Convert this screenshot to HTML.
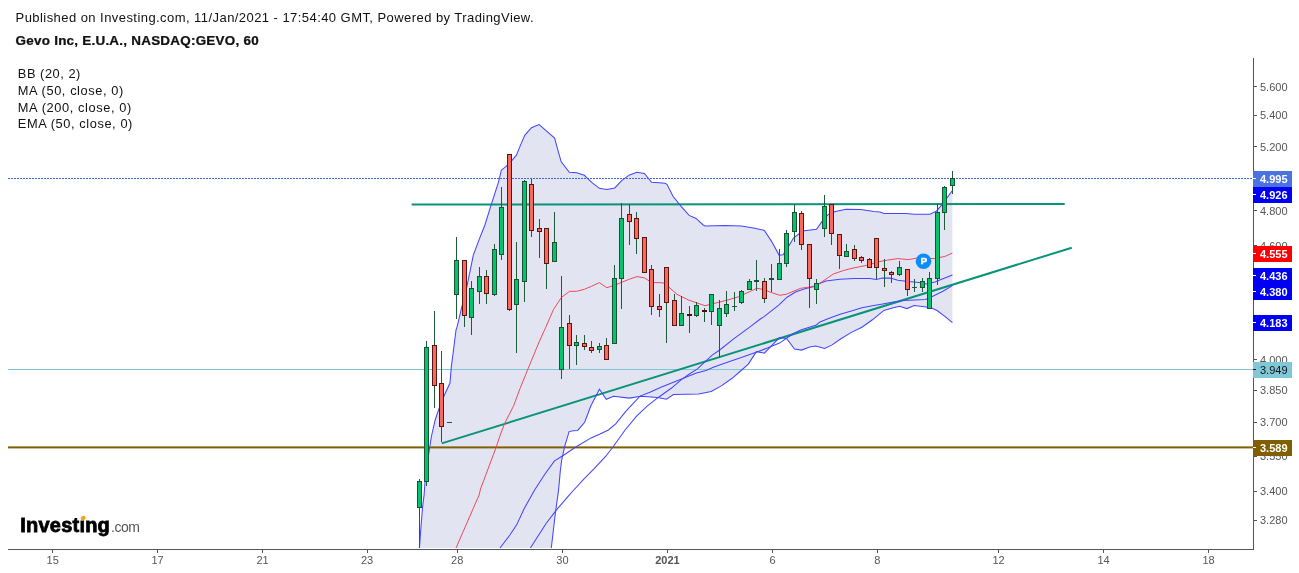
<!DOCTYPE html>
<html><head><meta charset="utf-8"><style>
html,body{margin:0;padding:0;background:#fff;width:1299px;height:573px;overflow:hidden}
svg{display:block;font-family:"Liberation Sans",sans-serif;will-change:transform}
.ax{font-size:11px;fill:#555}
.bd{font-weight:bold}
.lb{font-size:11px}
.hd{font-size:13px;fill:#111}
.lg{font-size:12px;fill:#111}
</style></head><body>
<svg width="1299" height="573" viewBox="0 0 1299 573">
<text x="15.6" y="21.8" class="hd" textLength="518" lengthAdjust="spacing">Published on Investing.com, 11/Jan/2021 - 17:54:40 GMT, Powered by TradingView.</text>
<text transform="translate(15.6 44.8) scale(1.12 1)" class="hd bd" style="font-size:12px;stroke:#111;stroke-width:0.25px" textLength="217" lengthAdjust="spacing">Gevo Inc, E.U.A., NASDAQ:GEVO, 60</text>
<text transform="translate(17.8 77.9) scale(1.07 1)" class="lg" textLength="58.5" lengthAdjust="spacing">BB (20, 2)</text>
<text transform="translate(17.8 94.7) scale(1.07 1)" class="lg" textLength="98.5" lengthAdjust="spacing">MA (50, close, 0)</text>
<text transform="translate(17.8 111.5) scale(1.07 1)" class="lg" textLength="106.1" lengthAdjust="spacing">MA (200, close, 0)</text>
<text transform="translate(17.8 128.3) scale(1.07 1)" class="lg" textLength="107.1" lengthAdjust="spacing">EMA (50, close, 0)</text>
<polygon points="419.4,548.0 420.4,534.8 422.5,507.6 424.1,495.0 425.0,482.3 428.5,455.0 431.5,436.0 435.2,420.0 438.9,408.9 444.4,395.0 450.0,383.0 451.3,367.0 453.7,348.5 456.0,330.0 457.2,326.4 462.2,305.3 467.2,285.2 473.3,255.1 479.3,239.1 484.9,225.0 491.3,204.4 498.4,182.3 501.4,170.2 506.4,166.2 511.4,161.2 516.4,155.2 520.5,145.1 524.9,135.1 531.5,127.7 539.1,124.5 546.6,131.1 554.6,138.1 557.6,149.2 561.2,161.8 569.3,172.2 576.7,172.7 584.3,175.3 591.7,182.3 599.4,188.3 606.8,189.5 614.8,187.9 621.9,180.3 629.5,174.9 636.9,172.2 644.4,173.5 651.6,182.3 659.0,182.7 665.0,183.3 667.0,184.3 673.0,196.3 681.1,206.4 689.1,215.4 696.1,218.4 703.2,225.0 705.2,226.0 725.2,225.6 741.3,226.0 753.4,228.0 764.4,230.4 771.4,241.1 779.1,255.1 783.1,254.7 787.5,248.1 793.5,238.1 802.6,231.0 816.5,229.3 822.8,220.4 828.1,214.6 835.4,211.5 845.9,209.2 860.8,209.4 873.8,211.4 880.0,212.0 883.9,213.4 906.0,213.4 914.2,214.3 930.0,214.3 936.4,211.1 942.0,204.6 952.4,190.5 952.4,190.5 952.4,322.6 952.4,322.6 944.8,316.4 937.4,310.8 931.8,308.0 926.3,307.1 914.2,305.5 906.9,308.6 899.6,306.2 893.3,307.8 883.9,310.4 872.4,319.8 861.9,327.2 851.4,332.4 840.9,338.7 831.7,345.1 824.6,348.5 815.6,346.1 809.6,347.1 801.5,350.1 794.5,349.1 786.5,338.4 779.5,337.6 764.4,353.1 756.4,351.7 748.3,364.1 740.0,371.5 732.1,378.3 721.7,385.6 711.2,391.4 698.6,394.0 673.5,394.5 666.5,399.3 657.6,397.4 640.8,396.2 629.3,398.1 613.6,396.2 606.3,399.3 599.4,389.2 590.7,406.3 584.7,422.3 577.7,430.4 573.3,430.8 569.1,431.6 564.9,445.7 561.8,459.3 560.2,471.9 558.6,490.0 555.5,512.0 551.3,548.0 551.3,548.0" fill="#E3E4F1"/>
<rect x="8" y="178" width="1245" height="1" fill="none"/>
<line x1="8" y1="178.5" x2="1253" y2="178.5" stroke="#3F66DE" stroke-width="1" stroke-dasharray="2,1"/>
<rect x="8" y="369" width="1245" height="1" fill="#7CC6D8"/>
<rect x="8" y="446.4" width="1245" height="2" fill="#7F5F00"/>
<line x1="411.6" y1="204.5" x2="1064.7" y2="204.0" stroke="#09937A" stroke-width="2"/>
<line x1="441.7" y1="443.4" x2="1071.8" y2="247.7" stroke="#09937A" stroke-width="2"/>
<polyline points="419.4,548.0 420.4,534.8 422.5,507.6 424.1,495.0 425.0,482.3 428.5,455.0 431.5,436.0 435.2,420.0 438.9,408.9 444.4,395.0 450.0,383.0 451.3,367.0 453.7,348.5 456.0,330.0 457.2,326.4 462.2,305.3 467.2,285.2 473.3,255.1 479.3,239.1 484.9,225.0 491.3,204.4 498.4,182.3 501.4,170.2 506.4,166.2 511.4,161.2 516.4,155.2 520.5,145.1 524.9,135.1 531.5,127.7 539.1,124.5 546.6,131.1 554.6,138.1 557.6,149.2 561.2,161.8 569.3,172.2 576.7,172.7 584.3,175.3 591.7,182.3 599.4,188.3 606.8,189.5 614.8,187.9 621.9,180.3 629.5,174.9 636.9,172.2 644.4,173.5 651.6,182.3 659.0,182.7 665.0,183.3 667.0,184.3 673.0,196.3 681.1,206.4 689.1,215.4 696.1,218.4 703.2,225.0 705.2,226.0 725.2,225.6 741.3,226.0 753.4,228.0 764.4,230.4 771.4,241.1 779.1,255.1 783.1,254.7 787.5,248.1 793.5,238.1 802.6,231.0 816.5,229.3 822.8,220.4 828.1,214.6 835.4,211.5 845.9,209.2 860.8,209.4 873.8,211.4 880.0,212.0 883.9,213.4 906.0,213.4 914.2,214.3 930.0,214.3 936.4,211.1 942.0,204.6 952.4,190.5" fill="none" stroke="#4545FF" stroke-width="1.05"/>
<polyline points="551.3,548.0 555.5,512.0 558.6,490.0 560.2,471.9 561.8,459.3 564.9,445.7 569.1,431.6 573.3,430.8 577.7,430.4 584.7,422.3 590.7,406.3 599.4,389.2 606.3,399.3 613.6,396.2 629.3,398.1 640.8,396.2 657.6,397.4 666.5,399.3 673.5,394.5 698.6,394.0 711.2,391.4 721.7,385.6 732.1,378.3 740.0,371.5 748.3,364.1 756.4,351.7 764.4,353.1 779.5,337.6 786.5,338.4 794.5,349.1 801.5,350.1 809.6,347.1 815.6,346.1 824.6,348.5 831.7,345.1 840.9,338.7 851.4,332.4 861.9,327.2 872.4,319.8 883.9,310.4 893.3,307.8 899.6,306.2 906.9,308.6 914.2,305.5 926.3,307.1 931.8,308.0 937.4,310.8 944.8,316.4 952.4,322.6" fill="none" stroke="#4545FF" stroke-width="1.05"/>
<polyline points="500.0,548.0 509.9,535.0 516.8,524.6 524.1,508.8 534.6,490.0 545.0,474.0 554.5,460.9 562.8,455.7 575.4,447.3 591.1,437.9 599.5,434.2 608.4,430.0 615.7,423.9 626.2,410.8 640.0,396.1 650.5,391.9 660.9,387.2 676.6,380.9 687.1,376.7 696.5,373.0 706.0,370.4 713.3,367.3 723.8,363.6 741.3,357.6 755.4,352.5 767.4,348.1 779.5,343.1 793.5,333.5 800.7,330.0 816.4,325.0 820.0,321.9 830.5,317.7 840.9,314.1 851.4,310.9 861.9,307.8 872.4,305.7 882.8,303.9 893.3,302.0 903.8,300.4 914.2,299.9 925.3,299.6 931.8,296.7 942.9,291.2 952.4,285.6" fill="none" stroke="#4545FF" stroke-width="1.05"/>
<polyline points="530.4,548.0 546.1,523.5 556.5,509.9 568.1,496.3 573.8,490.0 583.8,479.2 594.2,468.7 605.8,456.2 613.1,446.8 625.1,430.0 636.6,416.1 647.1,406.1 658.6,397.2 671.2,388.3 681.7,379.4 689.0,374.2 697.1,369.2 712.2,355.1 719.7,350.0 733.3,339.2 749.0,327.7 760.0,319.3 764.1,316.6 778.7,305.1 787.1,297.2 795.5,292.0 804.9,288.8 813.3,286.8 819.6,283.6 825.9,281.0 840.0,279.2 853.8,278.5 869.6,278.5 876.4,279.5 882.1,278.1 890.5,278.1 897.8,280.2 908.3,281.6 918.8,282.6 926.1,284.0 935.0,282.1 942.9,278.7 952.4,275.0" fill="none" stroke="#4545FF" stroke-width="1.05"/>
<polyline points="456.0,548.0 479.1,495.0 480.5,489.0 496.2,447.1 499.9,436.0 504.5,423.7 513.4,406.3 520.0,388.6 527.5,370.1 539.5,341.0 545.6,327.6 553.6,309.3 561.6,297.3 569.7,291.3 576.7,291.3 584.3,289.3 591.7,286.2 599.4,282.6 606.8,287.7 614.8,285.2 621.9,282.2 629.5,279.2 636.9,276.6 644.4,277.8 651.6,282.6 659.0,282.6 665.0,283.2 669.0,287.2 677.0,294.3 688.3,299.9 705.0,305.7 715.5,303.1 728.0,299.9 738.5,296.8 753.2,290.0 756.8,288.3 763.0,289.4 771.4,292.5 779.8,295.3 786.1,294.3 800.7,288.3 809.1,287.1 816.4,285.7 818.6,284.0 824.9,279.8 833.3,274.0 843.8,270.4 852.0,268.3 866.4,265.4 879.0,261.7 887.4,260.1 897.8,258.6 908.3,259.6 916.7,258.2 935.0,258.6 937.4,257.9 944.8,256.5 952.4,253.0" fill="none" stroke="#EA4A5C" stroke-width="1"/>
<g shape-rendering="crispEdges"><rect x="419" y="479" width="1" height="69" fill="#1F5A3A"/><rect x="417.5" y="481.5" width="4" height="26" fill="#00C46E" stroke="#1B5233" stroke-width="1"/>
<rect x="426" y="341" width="1" height="145" fill="#1F5A3A"/><rect x="424.5" y="347.5" width="4" height="134" fill="#00C46E" stroke="#1B5233" stroke-width="1"/>
<rect x="434" y="311" width="1" height="97" fill="#1F5A3A"/><rect x="432.5" y="345.5" width="4" height="40" fill="#F9685D" stroke="#5C150E" stroke-width="1"/>
<rect x="441" y="351" width="1" height="91" fill="#1F5A3A"/><rect x="439.5" y="383.5" width="4" height="43" fill="#F9685D" stroke="#5C150E" stroke-width="1"/>
<rect x="447" y="422" width="5" height="1" fill="#1F5A3A"/>
<rect x="456" y="237" width="1" height="82" fill="#1F5A3A"/><rect x="454.5" y="260.5" width="4" height="34" fill="#00C46E" stroke="#1B5233" stroke-width="1"/>
<rect x="464" y="260" width="1" height="67" fill="#1F5A3A"/><rect x="462.5" y="260.5" width="4" height="55" fill="#F9685D" stroke="#5C150E" stroke-width="1"/>
<rect x="471" y="281" width="1" height="54" fill="#1F5A3A"/><rect x="469.5" y="288.5" width="4" height="29" fill="#00C46E" stroke="#1B5233" stroke-width="1"/>
<rect x="479" y="267" width="1" height="37" fill="#1F5A3A"/><rect x="477.5" y="276.5" width="4" height="15" fill="#00C46E" stroke="#1B5233" stroke-width="1"/>
<rect x="486" y="270" width="1" height="34" fill="#1F5A3A"/><rect x="484.5" y="276.5" width="4" height="17" fill="#F9685D" stroke="#5C150E" stroke-width="1"/>
<rect x="494" y="244" width="1" height="52" fill="#1F5A3A"/><rect x="492.5" y="249.5" width="4" height="45" fill="#00C46E" stroke="#1B5233" stroke-width="1"/>
<rect x="501" y="187" width="1" height="73" fill="#1F5A3A"/><rect x="499.5" y="207.5" width="4" height="47" fill="#00C46E" stroke="#1B5233" stroke-width="1"/>
<rect x="509" y="154" width="1" height="157" fill="#1F5A3A"/><rect x="507.5" y="154.5" width="4" height="155" fill="#F9685D" stroke="#5C150E" stroke-width="1"/>
<rect x="516" y="242" width="1" height="111" fill="#1F5A3A"/><rect x="514.5" y="279.5" width="4" height="25" fill="#00C46E" stroke="#1B5233" stroke-width="1"/>
<rect x="524" y="180" width="1" height="122" fill="#1F5A3A"/><rect x="522.5" y="181.5" width="4" height="100" fill="#00C46E" stroke="#1B5233" stroke-width="1"/>
<rect x="531" y="179" width="1" height="58" fill="#1F5A3A"/><rect x="529.5" y="184.5" width="4" height="46" fill="#F9685D" stroke="#5C150E" stroke-width="1"/>
<rect x="539" y="219" width="1" height="39" fill="#1F5A3A"/><rect x="537.5" y="228.5" width="4" height="3" fill="#F9685D" stroke="#5C150E" stroke-width="1"/>
<rect x="546" y="228" width="1" height="61" fill="#1F5A3A"/><rect x="544.5" y="228.5" width="4" height="35" fill="#F9685D" stroke="#5C150E" stroke-width="1"/>
<rect x="554" y="212" width="1" height="50" fill="#1F5A3A"/><rect x="552.5" y="242.5" width="4" height="19" fill="#00C46E" stroke="#1B5233" stroke-width="1"/>
<rect x="561" y="276" width="1" height="103" fill="#1F5A3A"/><rect x="559.5" y="327.5" width="4" height="42" fill="#00C46E" stroke="#1B5233" stroke-width="1"/>
<rect x="569" y="315" width="1" height="54" fill="#1F5A3A"/><rect x="567.5" y="323.5" width="4" height="22" fill="#F9685D" stroke="#5C150E" stroke-width="1"/>
<rect x="576" y="335" width="1" height="30" fill="#1F5A3A"/><rect x="574.5" y="342.5" width="4" height="3" fill="#00C46E" stroke="#1B5233" stroke-width="1"/>
<rect x="584" y="335" width="1" height="15" fill="#1F5A3A"/><rect x="582.5" y="343.5" width="4" height="3" fill="#F9685D" stroke="#5C150E" stroke-width="1"/>
<rect x="591" y="341" width="1" height="12" fill="#1F5A3A"/><rect x="589.5" y="347.5" width="4" height="3" fill="#F9685D" stroke="#5C150E" stroke-width="1"/>
<rect x="599" y="343" width="1" height="10" fill="#1F5A3A"/><rect x="597.5" y="346.5" width="4" height="3" fill="#00C46E" stroke="#1B5233" stroke-width="1"/>
<rect x="606" y="338" width="1" height="22" fill="#1F5A3A"/><rect x="604.5" y="345.5" width="4" height="14" fill="#F9685D" stroke="#5C150E" stroke-width="1"/>
<rect x="614" y="265" width="1" height="79" fill="#1F5A3A"/><rect x="612.5" y="278.5" width="4" height="65" fill="#00C46E" stroke="#1B5233" stroke-width="1"/>
<rect x="621" y="203" width="1" height="106" fill="#1F5A3A"/><rect x="619.5" y="218.5" width="4" height="60" fill="#00C46E" stroke="#1B5233" stroke-width="1"/>
<rect x="629" y="204" width="1" height="41" fill="#1F5A3A"/><rect x="627.5" y="214.5" width="4" height="7" fill="#F9685D" stroke="#5C150E" stroke-width="1"/>
<rect x="636" y="212" width="1" height="42" fill="#1F5A3A"/><rect x="634.5" y="218.5" width="4" height="20" fill="#F9685D" stroke="#5C150E" stroke-width="1"/>
<rect x="644" y="237" width="1" height="36" fill="#1F5A3A"/><rect x="642.5" y="237.5" width="4" height="35" fill="#F9685D" stroke="#5C150E" stroke-width="1"/>
<rect x="651" y="265" width="1" height="50" fill="#1F5A3A"/><rect x="649.5" y="269.5" width="4" height="37" fill="#F9685D" stroke="#5C150E" stroke-width="1"/>
<rect x="659" y="294" width="1" height="23" fill="#1F5A3A"/><rect x="657.5" y="306.5" width="4" height="3" fill="#F9685D" stroke="#5C150E" stroke-width="1"/>
<rect x="666" y="267" width="1" height="76" fill="#1F5A3A"/><rect x="664.5" y="267.5" width="4" height="35" fill="#F9685D" stroke="#5C150E" stroke-width="1"/>
<rect x="674" y="294" width="1" height="32" fill="#1F5A3A"/><rect x="672.5" y="300.5" width="4" height="25" fill="#F9685D" stroke="#5C150E" stroke-width="1"/>
<rect x="681" y="296" width="1" height="30" fill="#1F5A3A"/><rect x="679.5" y="313.5" width="4" height="12" fill="#00C46E" stroke="#1B5233" stroke-width="1"/>
<rect x="689" y="306" width="1" height="27" fill="#1F5A3A"/><rect x="687" y="314" width="5" height="2" fill="#4D0D08"/>
<rect x="696" y="302" width="1" height="15" fill="#1F5A3A"/><rect x="694.5" y="305.5" width="4" height="10" fill="#00C46E" stroke="#1B5233" stroke-width="1"/>
<rect x="704" y="308" width="1" height="14" fill="#1F5A3A"/><rect x="702" y="310" width="5" height="2" fill="#4D0D08"/>
<rect x="711" y="294" width="1" height="31" fill="#1F5A3A"/><rect x="709.5" y="294.5" width="4" height="17" fill="#00C46E" stroke="#1B5233" stroke-width="1"/>
<rect x="719" y="300" width="1" height="57" fill="#1F5A3A"/><rect x="717.5" y="308.5" width="4" height="17" fill="#00C46E" stroke="#1B5233" stroke-width="1"/>
<rect x="726" y="291" width="1" height="26" fill="#1F5A3A"/><rect x="724.5" y="304.5" width="4" height="9" fill="#00C46E" stroke="#1B5233" stroke-width="1"/>
<rect x="734" y="292" width="1" height="19" fill="#1F5A3A"/><rect x="732" y="306" width="5" height="1" fill="#1F5A3A"/>
<rect x="741" y="290" width="1" height="14" fill="#1F5A3A"/><rect x="739.5" y="291.5" width="4" height="11" fill="#00C46E" stroke="#1B5233" stroke-width="1"/>
<rect x="749" y="279" width="1" height="11" fill="#1F5A3A"/><rect x="747.5" y="281.5" width="4" height="8" fill="#00C46E" stroke="#1B5233" stroke-width="1"/>
<rect x="756" y="260" width="1" height="31" fill="#1F5A3A"/><rect x="754.5" y="280.5" width="4" height="1" fill="#00C46E" stroke="#1B5233" stroke-width="1"/>
<rect x="764" y="278" width="1" height="25" fill="#1F5A3A"/><rect x="762.5" y="281.5" width="4" height="17" fill="#F9685D" stroke="#5C150E" stroke-width="1"/>
<rect x="771" y="264" width="1" height="28" fill="#1F5A3A"/><rect x="769.5" y="278.5" width="4" height="1" fill="#00C46E" stroke="#1B5233" stroke-width="1"/>
<rect x="779" y="249" width="1" height="31" fill="#1F5A3A"/><rect x="777.5" y="263.5" width="4" height="16" fill="#00C46E" stroke="#1B5233" stroke-width="1"/>
<rect x="786" y="230" width="1" height="37" fill="#1F5A3A"/><rect x="784.5" y="233.5" width="4" height="30" fill="#00C46E" stroke="#1B5233" stroke-width="1"/>
<rect x="794" y="204" width="1" height="38" fill="#1F5A3A"/><rect x="792.5" y="212.5" width="4" height="19" fill="#00C46E" stroke="#1B5233" stroke-width="1"/>
<rect x="801" y="211" width="1" height="39" fill="#1F5A3A"/><rect x="799.5" y="213.5" width="4" height="31" fill="#F9685D" stroke="#5C150E" stroke-width="1"/>
<rect x="809" y="244" width="1" height="64" fill="#1F5A3A"/><rect x="807.5" y="244.5" width="4" height="34" fill="#F9685D" stroke="#5C150E" stroke-width="1"/>
<rect x="816" y="279" width="1" height="25" fill="#1F5A3A"/><rect x="814.5" y="283.5" width="4" height="6" fill="#00C46E" stroke="#1B5233" stroke-width="1"/>
<rect x="824" y="195" width="1" height="42" fill="#1F5A3A"/><rect x="822.5" y="206.5" width="4" height="22" fill="#00C46E" stroke="#1B5233" stroke-width="1"/>
<rect x="831" y="204" width="1" height="41" fill="#1F5A3A"/><rect x="829.5" y="204.5" width="4" height="29" fill="#F9685D" stroke="#5C150E" stroke-width="1"/>
<rect x="839" y="234" width="1" height="35" fill="#1F5A3A"/><rect x="837.5" y="234.5" width="4" height="21" fill="#F9685D" stroke="#5C150E" stroke-width="1"/>
<rect x="846" y="244" width="1" height="13" fill="#1F5A3A"/><rect x="844.5" y="251.5" width="4" height="5" fill="#00C46E" stroke="#1B5233" stroke-width="1"/>
<rect x="854" y="245" width="1" height="16" fill="#1F5A3A"/><rect x="852.5" y="249.5" width="4" height="9" fill="#F9685D" stroke="#5C150E" stroke-width="1"/>
<rect x="861" y="256" width="1" height="7" fill="#1F5A3A"/><rect x="859.5" y="257.5" width="4" height="3" fill="#F9685D" stroke="#5C150E" stroke-width="1"/>
<rect x="869" y="258" width="1" height="10" fill="#1F5A3A"/><rect x="867.5" y="259.5" width="4" height="8" fill="#F9685D" stroke="#5C150E" stroke-width="1"/>
<rect x="876" y="238" width="1" height="41" fill="#1F5A3A"/><rect x="874.5" y="238.5" width="4" height="29" fill="#F9685D" stroke="#5C150E" stroke-width="1"/>
<rect x="884" y="259" width="1" height="28" fill="#1F5A3A"/><rect x="882.5" y="268.5" width="4" height="2" fill="#F9685D" stroke="#5C150E" stroke-width="1"/>
<rect x="891" y="271" width="1" height="12" fill="#1F5A3A"/><rect x="889.5" y="272.5" width="4" height="2" fill="#F9685D" stroke="#5C150E" stroke-width="1"/>
<rect x="899" y="261" width="1" height="15" fill="#1F5A3A"/><rect x="897.5" y="267.5" width="4" height="7" fill="#00C46E" stroke="#1B5233" stroke-width="1"/>
<rect x="907" y="269" width="1" height="27" fill="#1F5A3A"/><rect x="905.5" y="269.5" width="4" height="20" fill="#F9685D" stroke="#5C150E" stroke-width="1"/>
<rect x="914" y="279" width="1" height="13" fill="#1F5A3A"/><rect x="912" y="287" width="5" height="1" fill="#1F5A3A"/>
<rect x="922" y="278" width="1" height="14" fill="#1F5A3A"/><rect x="920.5" y="281.5" width="4" height="6" fill="#00C46E" stroke="#1B5233" stroke-width="1"/>
<rect x="929" y="272" width="1" height="37" fill="#1F5A3A"/><rect x="927.5" y="278.5" width="4" height="30" fill="#00C46E" stroke="#1B5233" stroke-width="1"/>
<rect x="937" y="204" width="1" height="81" fill="#1F5A3A"/><rect x="935.5" y="212.5" width="4" height="66" fill="#00C46E" stroke="#1B5233" stroke-width="1"/>
<rect x="944" y="186" width="1" height="44" fill="#1F5A3A"/><rect x="942.5" y="187.5" width="4" height="25" fill="#00C46E" stroke="#1B5233" stroke-width="1"/>
<rect x="952" y="171" width="1" height="23" fill="#1F5A3A"/><rect x="950.5" y="178.5" width="4" height="7" fill="#00C46E" stroke="#1B5233" stroke-width="1"/></g>
<circle cx="923.5" cy="261.3" r="7.8" fill="#0A8CFA"/>
<text x="923.8" y="263.7" text-anchor="middle" style="font-size:9.5px;font-weight:bold;fill:#fff;stroke:#fff;stroke-width:0.6px">P</text>
<g shape-rendering="crispEdges">
<rect x="1253" y="58" width="1" height="492" fill="#555"/>
<rect x="8" y="549" width="1246" height="1" fill="#555"/>
</g>
<rect x="1254" y="86" width="3" height="1" fill="#555"/>
<text x="1260" y="90.8" class="ax">5.600</text>
<rect x="1254" y="115" width="3" height="1" fill="#555"/>
<text x="1260" y="119.3" class="ax">5.400</text>
<rect x="1254" y="146" width="3" height="1" fill="#555"/>
<text x="1260" y="150.6" class="ax">5.200</text>
<rect x="1254" y="210" width="3" height="1" fill="#555"/>
<text x="1260" y="214.6" class="ax">4.800</text>
<rect x="1254" y="245" width="3" height="1" fill="#555"/>
<text x="1260" y="249.8" class="ax">4.600</text>
<rect x="1254" y="359" width="3" height="1" fill="#555"/>
<text x="1260" y="363.8" class="ax">4.000</text>
<rect x="1254" y="390" width="3" height="1" fill="#555"/>
<text x="1260" y="394.0" class="ax">3.850</text>
<rect x="1254" y="422" width="3" height="1" fill="#555"/>
<text x="1260" y="426.2" class="ax">3.700</text>
<rect x="1254" y="456" width="3" height="1" fill="#555"/>
<text x="1260" y="460.0" class="ax">3.550</text>
<rect x="1254" y="491" width="3" height="1" fill="#555"/>
<text x="1260" y="495.4" class="ax">3.400</text>
<rect x="1254" y="520" width="3" height="1" fill="#555"/>
<text x="1260" y="524.4" class="ax">3.280</text>
<rect x="52" y="550" width="1" height="3" fill="#555"/>
<text x="52.7" y="564" class="ax" text-anchor="middle">15</text>
<rect x="157" y="550" width="1" height="3" fill="#555"/>
<text x="157.5" y="564" class="ax" text-anchor="middle">17</text>
<rect x="262" y="550" width="1" height="3" fill="#555"/>
<text x="262.6" y="564" class="ax" text-anchor="middle">21</text>
<rect x="367" y="550" width="1" height="3" fill="#555"/>
<text x="367.1" y="564" class="ax" text-anchor="middle">23</text>
<rect x="457" y="550" width="1" height="3" fill="#555"/>
<text x="457.2" y="564" class="ax" text-anchor="middle">28</text>
<rect x="562" y="550" width="1" height="3" fill="#555"/>
<text x="562.4" y="564" class="ax" text-anchor="middle">30</text>
<rect x="667" y="550" width="1" height="3" fill="#555"/>
<text x="667.4" y="564" class="ax bd" text-anchor="middle">2021</text>
<rect x="772" y="550" width="1" height="3" fill="#555"/>
<text x="772.5" y="564" class="ax" text-anchor="middle">6</text>
<rect x="877" y="550" width="1" height="3" fill="#555"/>
<text x="877.4" y="564" class="ax" text-anchor="middle">8</text>
<rect x="998" y="550" width="1" height="3" fill="#555"/>
<text x="998.5" y="564" class="ax" text-anchor="middle">12</text>
<rect x="1103" y="550" width="1" height="3" fill="#555"/>
<text x="1103.6" y="564" class="ax" text-anchor="middle">14</text>
<rect x="1208" y="550" width="1" height="3" fill="#555"/>
<text x="1208.6" y="564" class="ax" text-anchor="middle">18</text>
<rect x="1253" y="171" width="39" height="16" fill="#4A72E0"/>
<rect x="1253" y="178" width="3" height="1" fill="#fff"/>
<text x="1260" y="183.0" class="lb bd" fill="#fff">4.995</text>
<rect x="1253" y="187" width="39" height="16" fill="#0000F5"/>
<rect x="1253" y="194" width="3" height="1" fill="#fff"/>
<text x="1260" y="199.0" class="lb bd" fill="#fff">4.926</text>
<rect x="1253" y="246" width="39" height="16" fill="#FF0000"/>
<rect x="1253" y="253" width="3" height="1" fill="#fff"/>
<text x="1260" y="258.0" class="lb bd" fill="#fff">4.555</text>
<rect x="1253" y="268" width="39" height="16" fill="#0000F5"/>
<rect x="1253" y="275" width="3" height="1" fill="#fff"/>
<text x="1260" y="280.0" class="lb bd" fill="#fff">4.436</text>
<rect x="1253" y="284" width="39" height="16" fill="#0000F5"/>
<rect x="1253" y="291" width="3" height="1" fill="#fff"/>
<text x="1260" y="296.0" class="lb bd" fill="#fff">4.380</text>
<rect x="1253" y="315" width="39" height="16" fill="#0000F5"/>
<rect x="1253" y="322" width="3" height="1" fill="#fff"/>
<text x="1260" y="327.0" class="lb bd" fill="#fff">4.183</text>
<rect x="1253" y="362" width="39" height="16" fill="#80C8D7"/>
<rect x="1253" y="369" width="3" height="1" fill="#111"/>
<text x="1260" y="374.0" class="lb" fill="#111">3.949</text>
<rect x="1253" y="440" width="39" height="16" fill="#7F5F00"/>
<rect x="1253" y="447" width="3" height="1" fill="#fff"/>
<text x="1260" y="452.0" class="lb bd" fill="#fff">3.589</text>
<text x="20.3" y="532" style="font-size:20px;font-weight:bold;fill:#000;stroke:#000;stroke-width:0.8px" textLength="89.5" lengthAdjust="spacing">Invest&#305;ng</text>
<text x="111" y="532" style="font-size:14px;fill:#555" textLength="29" lengthAdjust="spacing">.com</text>
<ellipse cx="83.2" cy="518.1" rx="2.6" ry="2" transform="rotate(-30 83.2 518.1)" fill="#F7A21B"/>
</svg>
</body></html>
